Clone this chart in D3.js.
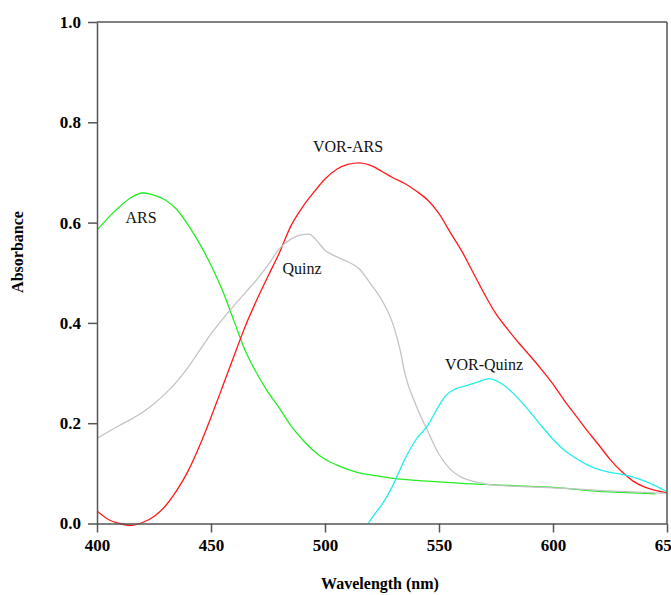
<!DOCTYPE html>
<html>
<head>
<meta charset="utf-8">
<script src="https://cdn.jsdelivr.net/npm/d3@7"></script>
<style>
  body { margin: 0; background: #fff; }
  svg { display: block; }
  .tick text { font-family: "Liberation Serif", "Times New Roman", serif; font-weight: bold; font-size: 17px; fill: #000; }
  .tick line, .domain { stroke: #555; stroke-width: 1.5px; }
</style>
</head>
<body>
<div id="chart"></div>
<script>
// UV-Vis absorption spectra

// ARS (green)
const arsWl = [400, 405, 410, 415, 420, 425, 430, 435, 440, 445, 450, 455, 460, 465, 470, 475, 480, 485, 490, 495, 500, 505, 510, 515, 520, 530, 540, 550, 560, 570, 580, 590, 600, 610, 620, 630, 640, 645];
const arsAbs = [0.585, 0.61, 0.632, 0.65, 0.659, 0.655, 0.645, 0.626, 0.595, 0.558, 0.515, 0.465, 0.405, 0.345, 0.3, 0.262, 0.23, 0.195, 0.168, 0.145, 0.128, 0.117, 0.108, 0.101, 0.097, 0.09, 0.086, 0.083, 0.08, 0.078, 0.076, 0.074, 0.072, 0.068, 0.064, 0.062, 0.06, 0.059];

// VOR-ARS (red)
const vorArsWl = [400, 405, 410, 415, 420, 425, 430, 435, 440, 445, 450, 455, 460, 465, 470, 475, 480, 485, 490, 495, 500, 505, 510, 515, 520, 525, 530, 535, 540, 545, 550, 555, 560, 565, 570, 575, 580, 585, 590, 595, 600, 605, 610, 615, 620, 625, 630, 635, 640, 645, 650];
const vorArsAbs = [0.025, 0.008, 0.0, -0.004, 0.002, 0.014, 0.035, 0.066, 0.105, 0.155, 0.212, 0.272, 0.333, 0.393, 0.445, 0.493, 0.54, 0.593, 0.63, 0.66, 0.687, 0.706, 0.716, 0.719, 0.714, 0.702, 0.689, 0.678, 0.663, 0.645, 0.618, 0.58, 0.543, 0.5, 0.457, 0.418, 0.388, 0.36, 0.334, 0.307, 0.278, 0.245, 0.215, 0.185, 0.157, 0.128, 0.104, 0.085, 0.073, 0.066, 0.061];

// Quinz (gray)
const quinzWl = [400, 405, 410, 415, 420, 425, 430, 435, 440, 445, 450, 455, 460, 465, 470, 475, 480, 485, 490, 493, 496, 500, 505, 510, 515, 520, 525, 530, 533, 535, 540, 545, 550, 555, 560, 565, 570, 580, 590, 600, 610, 620, 630, 640, 650];
const quinzAbs = [0.17, 0.183, 0.196, 0.208, 0.222, 0.239, 0.259, 0.283, 0.312, 0.345, 0.378, 0.407, 0.434, 0.46, 0.486, 0.515, 0.548, 0.567, 0.576, 0.577, 0.566, 0.545, 0.532, 0.522, 0.508, 0.478, 0.445, 0.395, 0.345, 0.3, 0.235, 0.185, 0.138, 0.108, 0.092, 0.084, 0.079, 0.075, 0.073, 0.071, 0.069, 0.066, 0.064, 0.062, 0.06];

// VOR-Quinz (cyan)
const vorQuinzWl = [519, 522, 525, 530, 535, 540, 545, 550, 553, 557, 562, 567, 572, 575, 578, 582, 586, 590, 595, 600, 605, 610, 615, 620, 625, 630, 635, 640, 645, 650];
const vorQuinzAbs = [0.0, 0.02, 0.038, 0.078, 0.128, 0.168, 0.195, 0.235, 0.255, 0.268, 0.275, 0.282, 0.289, 0.285, 0.277, 0.262, 0.243, 0.222, 0.194, 0.168, 0.146, 0.13, 0.117, 0.108, 0.102, 0.098, 0.093, 0.085, 0.075, 0.063];

const xTicks = [400, 450, 500, 550, 600, 650];
const yTicks = [0.0, 0.2, 0.4, 0.6, 0.8, 1.0];

const series = [
  { name: "ARS", wl: arsWl, abs: arsAbs, color: "#22ee22", lx: 141, ly: 223 },
  { name: "VOR-ARS", wl: vorArsWl, abs: vorArsAbs, color: "#ff1a1a", lx: 348, ly: 152 },
  { name: "Quinz", wl: quinzWl, abs: quinzAbs, color: "#c4c4c4", lx: 302, ly: 274 },
  { name: "VOR-Quinz", wl: vorQuinzWl, abs: vorQuinzAbs, color: "#22eeee", lx: 484, ly: 370 }
];

const W = 671, H = 595;
const margin = { top: 22, right: 4, bottom: 71.5, left: 97 };

const svg = d3.select("#chart").append("svg")
  .attr("width", W)
  .attr("height", H);

const x = d3.scaleLinear().domain([400, 650]).range([margin.left, W - margin.right]);
const y = d3.scaleLinear().domain([0, 1]).range([H - margin.bottom, margin.top]);

// curves first, clipped to the frame
svg.append("clipPath").attr("id", "clip")
  .append("rect")
  .attr("x", x(400)).attr("y", y(1))
  .attr("width", x(650) - x(400)).attr("height", y(0) - y(1) + 3);

const line = d3.line()
  .x(d => x(d[0]))
  .y(d => y(d[1]))
  .curve(d3.curveMonotoneX);

const g = svg.append("g").attr("clip-path", "url(#clip)");
series.forEach(s => {
  g.append("path")
    .datum(s.wl.map((w, i) => [w, s.abs[i]]))
    .attr("fill", "none")
    .attr("stroke", s.color)
    .attr("stroke-width", 1.3)
    .attr("d", line);
});

// frame: top and right borders
svg.append("line")
  .attr("x1", x(400)).attr("x2", x(650))
  .attr("y1", y(1)).attr("y2", y(1))
  .attr("stroke", "#555").attr("stroke-width", 1.5);
svg.append("line")
  .attr("x1", x(650)).attr("x2", x(650))
  .attr("y1", y(1)).attr("y2", y(0))
  .attr("stroke", "#555").attr("stroke-width", 1.5);

// axes
svg.append("g")
  .attr("transform", `translate(0,${y(0)})`)
  .call(d3.axisBottom(x).tickValues(xTicks).tickFormat(d3.format("d")).tickSize(9).tickSizeOuter(0).tickPadding(6));

svg.append("g")
  .attr("transform", `translate(${x(400)},0)`)
  .call(d3.axisLeft(y).tickValues(yTicks).tickFormat(d3.format(".1f")).tickSize(9).tickSizeOuter(0).tickPadding(7));

// curve labels
series.forEach(s => {
  svg.append("text")
    .attr("x", s.lx)
    .attr("y", s.ly)
    .attr("text-anchor", "middle")
    .attr("font-family", "Liberation Serif, Times New Roman, serif")
    .attr("font-size", "16px")
    .attr("fill", "#111")
    .text(s.name);
});

// axis titles
svg.append("text")
  .attr("x", (x(400) + x(650)) / 2 - 2)
  .attr("y", 589)
  .attr("text-anchor", "middle")
  .attr("font-family", "Liberation Serif, Times New Roman, serif")
  .attr("font-weight", "bold")
  .attr("font-size", "16px")
  .text("Wavelength (nm)");

svg.append("text")
  .attr("transform", "rotate(-90)")
  .attr("x", -252)
  .attr("y", 23)
  .attr("text-anchor", "middle")
  .attr("font-family", "Liberation Serif, Times New Roman, serif")
  .attr("font-weight", "bold")
  .attr("font-size", "16px")
  .text("Absorbance");
</script>
</body>
</html>
